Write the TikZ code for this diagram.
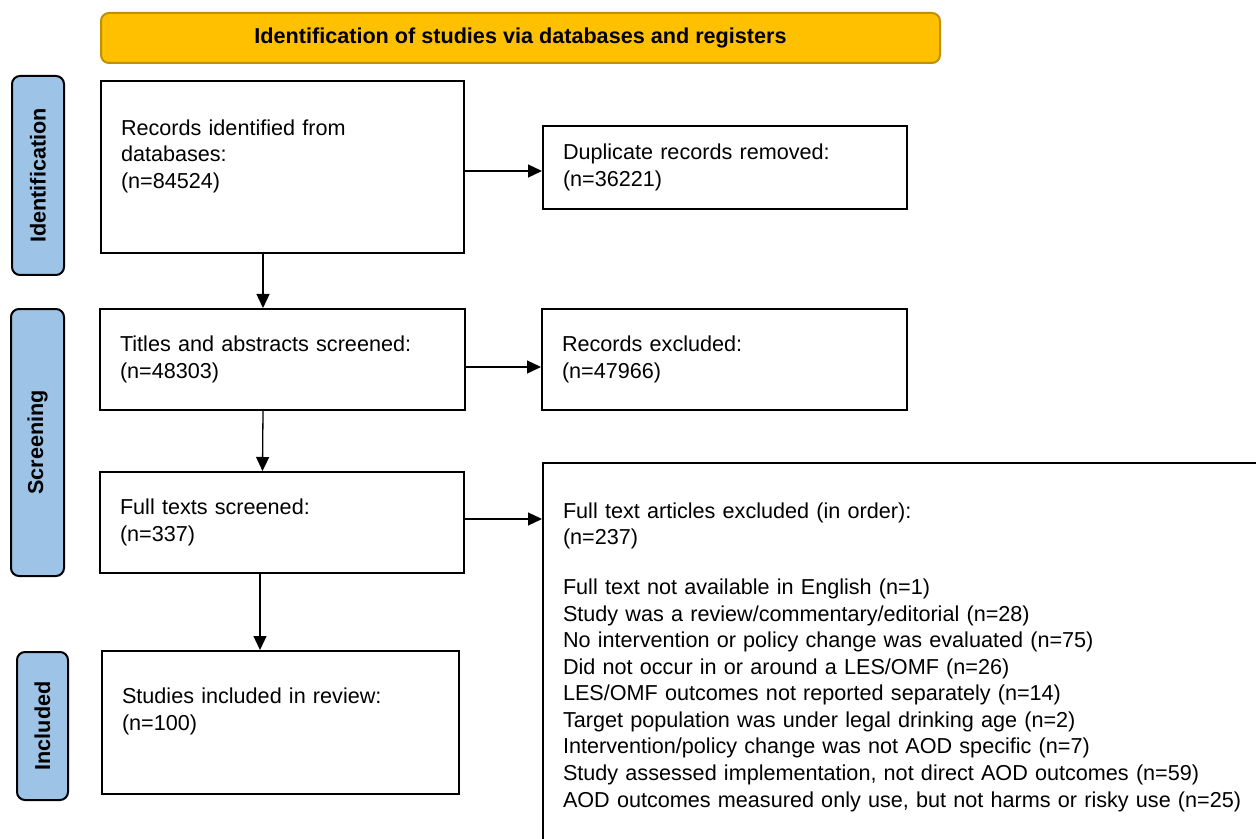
\documentclass[tikz,border=0pt]{standalone}
\usepackage{fontspec}
\setmainfont{Liberation Sans}
\usepackage{tikz}
\usetikzlibrary{arrows.meta}
\definecolor{headgold}{HTML}{FFC000}
\definecolor{headedge}{HTML}{BF9000}
\definecolor{phaseblue}{HTML}{9DC3E6}

\begin{document}
\begin{tikzpicture}[line width=0.3mm,
    every node/.style={font=\fontsize{12.3}{15.1}\selectfont},
    box/.style={draw, line width=0.4mm, rectangle, align=left, inner xsep=0.4cm, inner ysep=0pt},
    phase/.style={draw, line width=0.4mm, fill=phaseblue, rounded corners=0.16cm, rotate=90,
                  inner sep=0pt, font=\fontsize{12.3}{15.1}\selectfont\bfseries},
    arr/.style={-{Triangle[length=0.28cm,width=0.26cm]}, line width=0.26mm}]
    \useasboundingbox (0,0) rectangle (25.12,-16.78);
    \clip (0,0) rectangle (25.12,-16.78);

    % banner and phase labels
    \node[draw=headedge, fill=headgold, rounded corners=0.16cm, line width=0.4mm,
          minimum width=16.78cm, minimum height=1cm, font=\fontsize{12.3}{15.1}\selectfont\bfseries]
          (head) at (10.41,-0.76) {Identification of studies via databases and registers};
    \node[phase, minimum width=3.98cm, minimum height=1.04cm] (ident) at (0.76,-3.51) {Identification};
    \node[phase, minimum width=5.34cm, minimum height=1.06cm] (screen) at (0.75,-8.85) {Screening};
    \node[phase, minimum width=2.96cm, minimum height=1.02cm] (incphase) at (0.85,-14.52) {Included};

    % main column
    \node[box, text width=6.46cm, minimum height=3.44cm] (rec) at (5.65,-3.34)
        {Records identified from\\ databases:\\ (n=84524)\\ \mbox{}};
    \node[box, text width=6.50cm, minimum height=2.02cm] (titles) at (5.65,-7.19)
        {Titles and abstracts screened:\\ (n=48303)};
    \node[box, text width=6.48cm, minimum height=2.02cm] (full) at (5.64,-10.45)
        {Full texts screened:\\ (n=337)};
    \node[box, text width=6.34cm, minimum height=2.86cm] (incl) at (5.61,-14.45)
        {Studies included in review:\\ (n=100)\\ \mbox{}};

    % exclusions
    \node[box, text width=6.48cm, minimum height=1.66cm] (dup) at (14.50,-3.35)
        {Duplicate records removed:\\ (n=36221)};
    \node[box, text width=6.50cm, minimum height=2.02cm] (recex) at (14.49,-7.19)
        {Records excluded:\\ (n=47966)};
    \node[box, text width=14.0cm, minimum height=7.76cm] (ftex) at (18.26,-13.14)
        {Full text articles excluded (in order):\\ (n=237)\\[0.47cm]
         Full text not available in English (n=1)\\
         Study was a review/commentary/editorial (n=28)\\
         No intervention or policy change was evaluated (n=75)\\
         Did not occur in or around a LES/OMF (n=26)\\
         LES/OMF outcomes not reported separately (n=14)\\
         Target population was under legal drinking age (n=2)\\
         Intervention/policy change was not AOD specific (n=7)\\
         Study assessed implementation, not direct AOD outcomes (n=59)\\
         AOD outcomes measured only use, but not harms or risky use (n=25)};

    \draw[arr] ([xshift=-0.39cm]rec.south) -- ([xshift=-0.39cm]titles.north);
    \draw[arr] ([xshift=-0.39cm]titles.south) -- ([xshift=-0.39cm]full.north);
    \draw[arr] ([xshift=-0.44cm]full.south) -- ([xshift=-0.44cm]full.south |- incl.north);
    \draw[arr] ([yshift=-0.08cm]rec.east) -- ([yshift=-0.08cm]rec.east -| dup.west);
    \draw[arr] ([yshift=-0.15cm]titles.east) -- ([yshift=-0.15cm]titles.east -| recex.west);
    \draw[arr] ([yshift=0.07cm]full.east) -- ([yshift=0.07cm]full.east -| ftex.west);
\end{tikzpicture}
\end{document}
